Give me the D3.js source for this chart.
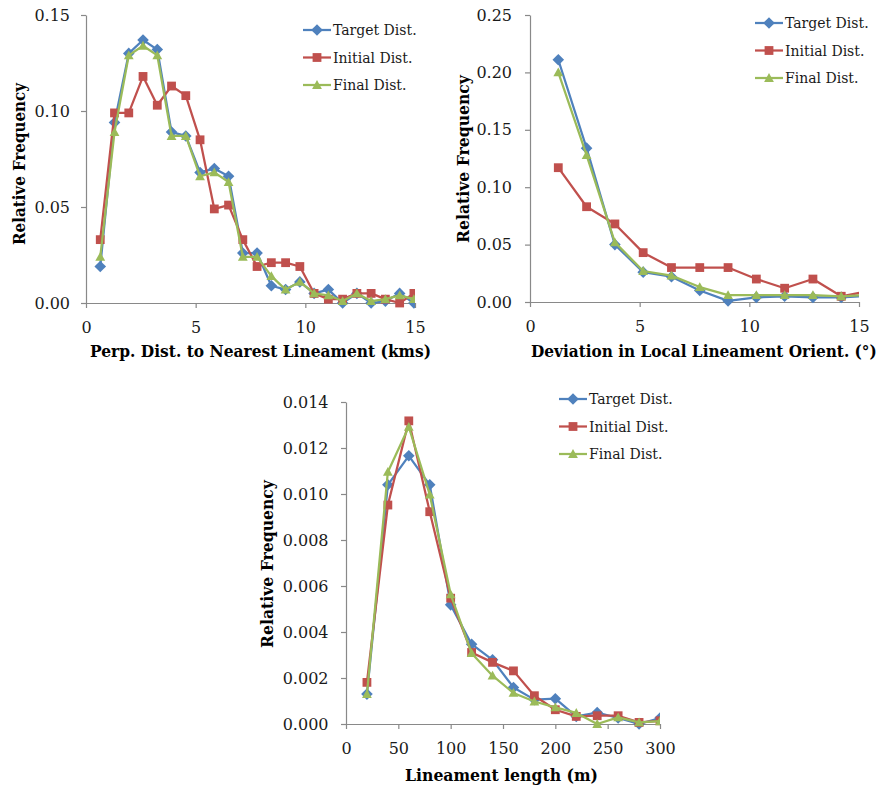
<!DOCTYPE html>
<html>
<head>
<meta charset="utf-8">
<script src="https://cdn.jsdelivr.net/npm/d3@7/dist/d3.min.js"></script>
<style>
  html, body { margin: 0; padding: 0; background: #fff; }
  svg { display: block; }
  .tick text { font-family: "DejaVu Serif", serif; fill: #1a1a1a; }
</style>
</head>
<body>
<svg id="fig" width="888" height="789"></svg>
<script>
// ---- Series names and colours ----
const seriesNames = ["Target Dist.", "Initial Dist.", "Final Dist."];
const seriesColors = ["#4F81BD", "#C0504D", "#9BBB59"];
const seriesMarkers = ["diamond", "square", "triangle"];

// ---- Perpendicular distance to nearest lineament (kms) ----
const distBins = [0.65, 1.30, 1.95, 2.60, 3.25, 3.90, 4.55, 5.20, 5.85, 6.50, 7.15, 7.80,
                  8.45, 9.10, 9.75, 10.40, 11.05, 11.70, 12.35, 13.00, 13.65, 14.30, 14.95];
const distTarget  = [0.019, 0.094, 0.130, 0.137, 0.132, 0.089, 0.087, 0.068, 0.070, 0.066, 0.026, 0.026,
                     0.009, 0.007, 0.011, 0.005, 0.007, 0.000, 0.005, 0.000, 0.001, 0.005, 0.000];
const distInitial = [0.033, 0.099, 0.099, 0.118, 0.103, 0.113, 0.108, 0.085, 0.049, 0.051, 0.033, 0.019,
                     0.021, 0.021, 0.019, 0.005, 0.002, 0.002, 0.005, 0.005, 0.002, 0.000, 0.005];
const distFinal   = [0.024, 0.089, 0.129, 0.134, 0.129, 0.087, 0.087, 0.066, 0.068, 0.063, 0.024, 0.024,
                     0.014, 0.007, 0.011, 0.005, 0.004, 0.001, 0.005, 0.001, 0.002, 0.004, 0.002];
const distXTicks = [0, 5, 10, 15];
const distYTicks = [0.00, 0.05, 0.10, 0.15];

// ---- Deviation in local lineament orientation (degrees) ----
const orientBins = [1.29, 2.58, 3.87, 5.16, 6.45, 7.74, 9.03, 10.32, 11.61, 12.90, 14.19, 15.48];
const orientTarget  = [0.211, 0.134, 0.050, 0.026, 0.022, 0.010, 0.001, 0.004, 0.005, 0.004, 0.004, 0.0055];
const orientInitial = [0.117, 0.083, 0.068, 0.043, 0.030, 0.030, 0.030, 0.020, 0.012, 0.020, 0.005, 0.0095];
const orientFinal   = [0.200, 0.128, 0.052, 0.027, 0.023, 0.013, 0.006, 0.006, 0.006, 0.006, 0.005, 0.0063];
const orientXTicks = [0, 5, 10, 15];
const orientYTicks = [0.00, 0.05, 0.10, 0.15, 0.20, 0.25];

// ---- Lineament length (m) ----
const lengthBins = [20, 40, 60, 80, 100, 120, 140, 160, 180, 200, 220, 240, 260, 280, 300];
const lengthTarget  = [0.00130, 0.01040, 0.01166, 0.01040, 0.00518, 0.00347, 0.00279, 0.00159,
                       0.00106, 0.00110, 0.00033, 0.00050, 0.00026, 0.00000, 0.00026];
const lengthInitial = [0.00181, 0.00952, 0.01318, 0.00923, 0.00547, 0.00311, 0.00268, 0.00231,
                       0.00123, 0.00062, 0.00033, 0.00036, 0.00036, 0.00007, 0.00014];
const lengthFinal   = [0.00130, 0.01096, 0.01292, 0.00998, 0.00564, 0.00308, 0.00210, 0.00135,
                       0.00098, 0.00072, 0.00048, 0.00000, 0.00029, 0.00007, 0.00012];
const lengthXTicks = [0, 50, 100, 150, 200, 250, 300];
const lengthYTicks = [0.000, 0.002, 0.004, 0.006, 0.008, 0.010, 0.012, 0.014];

const svg = d3.select("#fig");
const AXIS_COLOR = "#898989";
const SERIF = "'DejaVu Serif', serif";

// Marker outlines centred on (0,0)
function markerPath(kind) {
  if (kind === "diamond") { const r = 5.8; return `M0,${-r}L${r},0L0,${r}L${-r},0Z`; }
  if (kind === "square")  { const h = 4.4; return `M${-h},${-h}H${h}V${h}H${-h}Z`; }
  const s = 4.9; return `M0,${-s}L${s},${s * 0.8}L${-s},${s * 0.8}Z`;
}

// Squeeze a text element horizontally to a given rendered width
function fitWidth(sel, w) {
  const natural = sel.node().getComputedTextLength();
  if (natural > w) {
    const k = w / natural;
    const anchor = sel.attr("text-anchor") || "start";
    const x0 = +sel.attr("x");
    sel.attr("transform", `translate(${x0},0) scale(${k},1) translate(${-x0},0)`);
  }
}

let clipId = 0;
function drawChart(cfg) {
  const x = d3.scaleLinear().domain(cfg.xDomain).range([cfg.left, cfg.right]);
  const y = d3.scaleLinear().domain(cfg.yDomain).range([cfg.bottom, cfg.top]);
  const g = svg.append("g");

  // axes
  const yAxis = d3.axisLeft(y).tickValues(cfg.yTicks).tickFormat(d3.format(cfg.yFmt))
    .tickSizeInner(5).tickSizeOuter(0).tickPadding(cfg.yPad);
  const xAxis = d3.axisBottom(x).tickValues(cfg.xTicks).tickFormat(d3.format("d"))
    .tickSizeInner(5).tickSizeOuter(0).tickPadding(13.5);
  const ya = g.append("g").attr("transform", `translate(${cfg.left},0)`).call(yAxis);
  const xa = g.append("g").attr("transform", `translate(0,${cfg.bottom})`).call(xAxis);
  [ya, xa].forEach(a => {
    a.select(".domain").attr("stroke", AXIS_COLOR).attr("stroke-width", 1.2);
    a.selectAll(".tick line").attr("stroke", AXIS_COLOR).attr("stroke-width", 1.2);
    a.selectAll(".tick text").attr("font-size", 16).attr("font-family", SERIF).attr("fill", "#1a1a1a");
  });

  // axis titles (x title squeezed horizontally, y title squeezed along its length)
  const xt = g.append("text").attr("x", cfg.xTitleX).attr("y", cfg.xTitleY)
    .attr("text-anchor", cfg.xTitleAnchor || "middle")
    .attr("font-family", SERIF).attr("font-weight", "bold").attr("font-size", 17)
    .attr("fill", "#000").text(cfg.xTitle);
  fitWidth(xt, cfg.xTitleW);

  const ytg = g.append("g")
    .attr("transform", `translate(${cfg.yTitleX},${cfg.yTitleY}) rotate(-90)`);
  const yt = ytg.append("text").attr("x", 0).attr("y", 0)
    .attr("text-anchor", "middle")
    .attr("font-family", SERIF).attr("font-weight", "bold").attr("font-size", 17)
    .attr("fill", "#000").text("Relative Frequency");
  fitWidth(yt, cfg.yTitleW);

  // plot clip
  const cid = "plotclip" + (clipId++);
  svg.append("clipPath").attr("id", cid).append("rect")
    .attr("x", cfg.left - 8).attr("y", cfg.top - 10)
    .attr("width", cfg.right - cfg.left + 8).attr("height", cfg.bottom - cfg.top + 20);

  const plot = g.append("g").attr("clip-path", `url(#${cid})`);
  const line = d3.line().x(d => x(d[0])).y(d => y(d[1]));
  cfg.series.forEach((vals, i) => {
    const pts = cfg.bins.map((b, k) => [b, vals[k]]);
    plot.append("path").datum(pts).attr("d", line)
      .attr("fill", "none").attr("stroke", seriesColors[i])
      .attr("stroke-width", 2.25).attr("stroke-linejoin", "round");
    plot.selectAll(null).data(pts.filter(p => p[0] <= cfg.xDomain[1])).enter().append("path")
      .attr("transform", d => `translate(${x(d[0])},${y(d[1])})`)
      .attr("d", markerPath(seriesMarkers[i]))
      .attr("fill", seriesColors[i]);
  });

  // legend
  const lg = g.append("g");
  seriesNames.forEach((name, i) => {
    const ly = cfg.legendY + i * cfg.legendGap;
    lg.append("line").attr("x1", cfg.legendX).attr("x2", cfg.legendX + 28)
      .attr("y1", ly).attr("y2", ly)
      .attr("stroke", seriesColors[i]).attr("stroke-width", 2.25);
    lg.append("path").attr("transform", `translate(${cfg.legendX + 14},${ly})`)
      .attr("d", markerPath(seriesMarkers[i])).attr("fill", seriesColors[i]);
    lg.append("text").attr("x", cfg.legendX + 30).attr("y", ly + 5)
      .attr("font-family", SERIF).attr("font-size", 14).attr("fill", "#1a1a1a").text(name);
  });
}

drawChart({
  left: 86, right: 415, top: 15, bottom: 303,
  xDomain: [0, 15], yDomain: [0, 0.15],
  xTicks: distXTicks, yTicks: distYTicks, yFmt: ".2f", yPad: 11,
  bins: distBins, series: [distTarget, distInitial, distFinal],
  xTitle: "Perp. Dist. to Nearest Lineament (kms)", xTitleX: 260.5, xTitleY: 357, xTitleW: 341,
  yTitleX: 25, yTitleY: 164, yTitleW: 162,
  legendX: 303, legendY: 30, legendGap: 27.5
});

drawChart({
  left: 530, right: 859, top: 15, bottom: 302,
  xDomain: [0, 15], yDomain: [0, 0.25],
  xTicks: orientXTicks, yTicks: orientYTicks, yFmt: ".2f", yPad: 13,
  bins: orientBins, series: [orientTarget, orientInitial, orientFinal],
  xTitle: "Deviation in Local Lineament Orient. (°)", xTitleX: 531, xTitleY: 357, xTitleW: 346,
  xTitleAnchor: "start",
  yTitleX: 469, yTitleY: 159, yTitleW: 168,
  legendX: 755, legendY: 23, legendGap: 27.5
});

drawChart({
  left: 346, right: 660, top: 402, bottom: 724,
  xDomain: [0, 300], yDomain: [0, 0.014],
  xTicks: lengthXTicks, yTicks: lengthYTicks, yFmt: ".3f", yPad: 12.5,
  bins: lengthBins, series: [lengthTarget, lengthInitial, lengthFinal],
  xTitle: "Lineament length (m)", xTitleX: 501.5, xTitleY: 781, xTitleW: 193,
  yTitleX: 273, yTitleY: 564, yTitleW: 168,
  legendX: 559, legendY: 399, legendGap: 27.5
});
</script>
</body>
</html>
